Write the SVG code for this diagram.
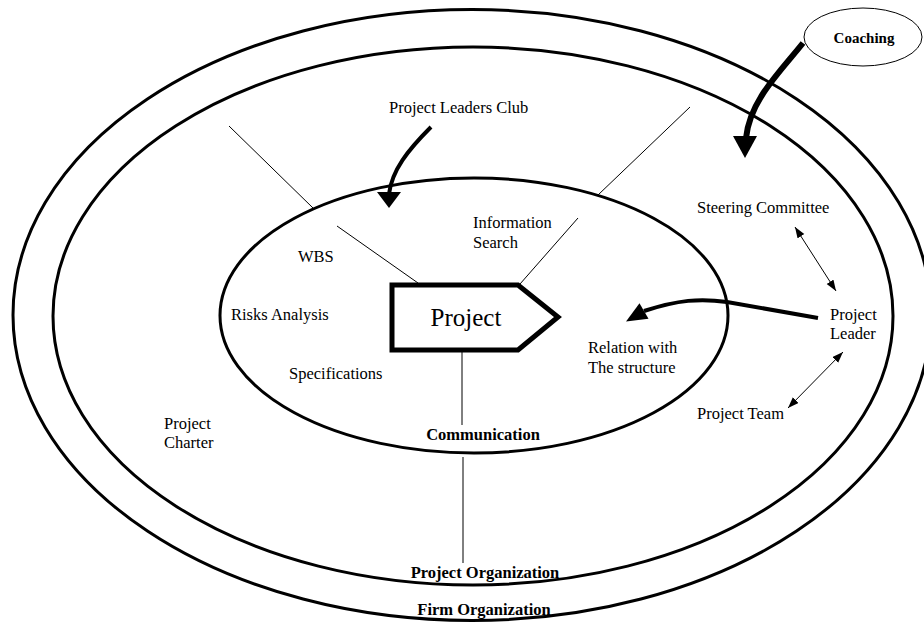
<svg xmlns="http://www.w3.org/2000/svg" width="924" height="623" viewBox="0 0 924 623">
<style>
.ring{fill:none;stroke:#000;stroke-width:3}
.thin{stroke:#000;stroke-width:1;fill:none}
.t{font-family:"Liberation Serif","Times New Roman",serif;font-size:16.5px;fill:#000}
.b{font-weight:bold;text-anchor:middle}
.fat{fill:none;stroke:#000;stroke-linecap:butt}
.head{fill:#000}
</style>
<defs>
<marker id="ah" markerUnits="userSpaceOnUse" markerWidth="12" markerHeight="10" refX="11" refY="4" orient="auto-start-reverse">
<path d="M0,0 L11,4 L0,8 Z" fill="#000"/>
</marker>
</defs>
<rect width="924" height="623" fill="#fff"/>
<g id="firm-organization">
<ellipse class="ring" cx="472" cy="315" rx="459" ry="305.5"/>
<text class="t b" x="484" y="615">Firm Organization</text>
</g>
<g id="project-organization">
<ellipse class="ring" cx="473" cy="316" rx="420" ry="269"/>
<text class="t b" x="485" y="578">Project Organization</text>
</g>
<g id="communication">
<ellipse class="ring" cx="474" cy="315.5" rx="254" ry="137.5"/>
<text class="t b" x="483" y="440">Communication</text>
</g>
<g id="connectors">
<line class="thin" x1="229" y1="126" x2="313" y2="208"/>
<line class="thin" x1="337" y1="226" x2="418" y2="283"/>
<line class="thin" x1="690" y1="107" x2="598" y2="195"/>
<line class="thin" x1="578" y1="218" x2="520" y2="284"/>
<line class="thin" x1="462" y1="352" x2="462" y2="425"/>
<line class="thin" x1="463" y1="457" x2="463" y2="563"/>
<path class="fat" stroke-width="6" d="M803,43 C780,72 750,100 746,138"/>
<polygon class="head" points="733,136 757,136 745,158"/>
<path class="fat" stroke-width="4" d="M431,127 C408,150 392,170 389,194"/>
<polygon class="head" points="377,192 401,192 389,208"/>
<path class="fat" stroke-width="4" d="M818,318 L727,302 C700,298 678,300 644,311"/>
<polygon class="head" points="626,321.5 639.5,303.2 648.5,318.8"/>
<line class="thin" x1="795" y1="227" x2="836" y2="291" marker-start="url(#ah)" marker-end="url(#ah)"/>
<line class="thin" x1="843" y1="352" x2="788" y2="408" marker-start="url(#ah)" marker-end="url(#ah)"/>
</g>
<g id="project">
<path d="M392,285 L518,285 L558,317 L518,350 L392,350 Z" fill="#fff" stroke="#000" stroke-width="5" stroke-linejoin="miter"/>
<text class="t" x="466" y="326" font-size="25" text-anchor="middle" style="font-size:25px">Project</text>
</g>
<g id="coaching">
<ellipse cx="863" cy="37" rx="59" ry="29" fill="#fff" stroke="#000" stroke-width="1"/>
<text class="t b" x="864" y="43" style="font-size:15px">Coaching</text>
</g>
<g id="project-leaders-club"><text class="t" x="389" y="113">Project Leaders Club</text></g>
<g id="information-search"><text class="t" x="473" y="228">Information</text><text class="t" x="473" y="248">Search</text></g>
<g id="wbs"><text class="t" x="298" y="262">WBS</text></g>
<g id="risks-analysis"><text class="t" x="231" y="320">Risks Analysis</text></g>
<g id="specifications"><text class="t" x="289" y="379">Specifications</text></g>
<g id="project-charter"><text class="t" x="164" y="429">Project</text><text class="t" x="164" y="448">Charter</text></g>
<g id="steering-committee"><text class="t" x="697" y="213">Steering Committee</text></g>
<g id="project-leader"><text class="t" x="830" y="320">Project</text><text class="t" x="830" y="339">Leader</text></g>
<g id="relation-structure"><text class="t" x="588" y="353">Relation with</text><text class="t" x="588" y="373">The structure</text></g>
<g id="project-team"><text class="t" x="697" y="419">Project Team</text></g>
</svg>
